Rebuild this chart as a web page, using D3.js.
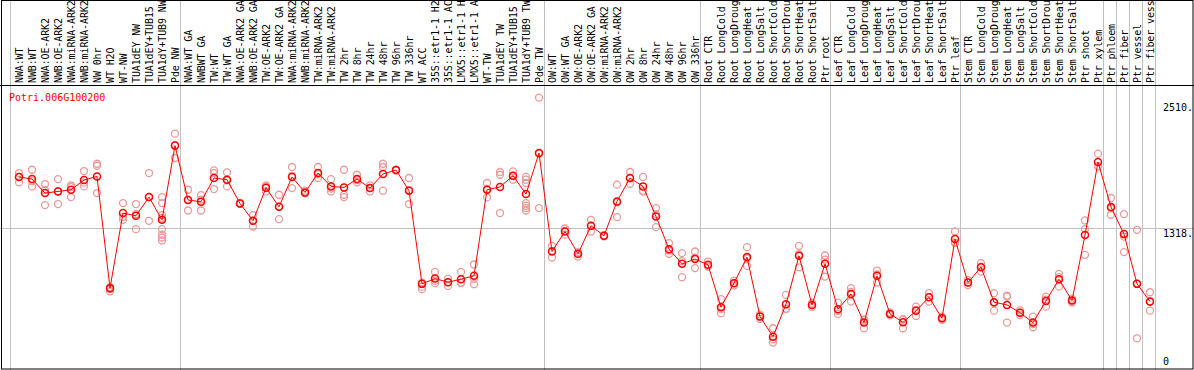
<!DOCTYPE html>
<html>
<head>
<meta charset="utf-8">
<script src="https://cdn.jsdelivr.net/npm/d3@7"></script>
<style>
  body { margin: 0; background: #fff; }
  svg text { font-family: "DejaVu Sans Mono", monospace; font-size: 10px; }
</style>
</head>
<body>
<div id="chart"></div>
<script>
var geneName = "Potri.006G100200";

// labels as far as they show in the header (the long ones are cut there)
var sampleLabels = [
  "NWA:WT", "NWB:WT", "NWA:OE-ARK2", "NWB:OE-ARK2", "NWA:miRNA-ARK2", "NWB:miRNA-ARK2",
  "NW 0hr", "WT H2O", "WT-NW", "TUA1dEY NW", "TUA1dEY+TUB15", "TUA1dY+TUB9 NW", "Pde NW",
  "NWA:WT GA", "NWBWT GA", "TW:WT", "TW:WT GA", "NWA:OE-ARK2 GA", "NWB:OE-ARK2 GA",
  "TW:OE-ARK2", "TW:OE-ARK2 GA", "NWA:miRNA-ARK2", "NWB:miRNA-ARK2", "TW:miRNA-ARK2",
  "TW:miRNA-ARK2", "TW 2hr", "TW 8hr", "TW 24hr", "TW 48hr", "TW 96hr", "TW 336hr", "WT ACC",
  "35S::etr1-1 H2", "35S::etr1-1 AC", "LMX5::etr1-1 H", "LMX5::etr1-1 A", "WT-TW",
  "TUA1dEY TW", "TUA1dEY+TUB15", "TUA1dY+TUB9 TW", "Pde TW",
  "OW:WT", "OW:WT GA", "OW:OE-ARK2", "OW:OE-ARK2 GA", "OW:miRNA-ARK2", "OW:miRNA-ARK2",
  "OW 2hr", "OW 8hr", "OW 24hr", "OW 48hr", "OW 96hr", "OW 336hr",
  "Root CTR", "Root LongCold", "Root LongDroug", "Root LongHeat", "Root LongSalt",
  "Root ShortCold", "Root ShortDrou", "Root ShortHeat", "Root ShortSalt", "Ptr root",
  "Leaf CTR", "Leaf LongCold", "Leaf LongDroug", "Leaf LongHeat", "Leaf LongSalt",
  "Leaf ShortCold", "Leaf ShortDrou", "Leaf ShortHeat", "Leaf ShortSalt", "Ptr leaf",
  "Stem CTR", "Stem LongCold", "Stem LongDroug", "Stem LongHeat", "Stem LongSalt",
  "Stem ShortCold", "Stem ShortDrou", "Stem ShortHeat", "Stem ShortSalt", "Ptr shoot",
  "Ptr xylem", "Ptr phloem", "Ptr fiber", "Ptr vessel", "Ptr fiber vess"
];

var meanValues = [
  1800, 1780, 1648, 1663, 1679, 1771, 1805, 749, 1459, 1433, 1610, 1395, 2096,
  1582, 1566, 1790, 1774, 1550, 1386, 1698, 1518, 1800,
  1654, 1837, 1711, 1701, 1780, 1695, 1828, 1865, 1670,
  790, 840, 806, 834, 866,
  1679, 1705, 1812, 1638, 2026,
  1096, 1285, 1074, 1339, 1244, 1569, 1790, 1711, 1427, 1118, 979, 1024,
  970, 570, 797, 1043, 481, 291, 598, 1055, 591, 979,
  551, 695, 424, 866, 506, 427, 535, 664, 465, 1213,
  802, 948, 617, 591, 518, 424, 629, 834, 632, 1251, 1941, 1516, 1260, 790, 623
];

var replicateValues = [
  [1837, 1800, 1749], [1868, 1760, 1711], [1733, 1677, 1534], [1780, 1665, 1544],
  [1720, 1705, 1610], [1856, 1746, 1711], [1925, 1906, 1648], [760, 740, 720],
  [1553, 1421, 1395], [1544, 1450, 1307], [1837, 1610, 1386],
  [1610, 1553, 1440, 1414, 1307, 1254, 1228, 1200], [2209, 2100, 1979],
  [1679, 1585, 1483], [1629, 1586, 1483], [1862, 1837, 1686], [1843, 1768, 1711],
  [1556, 1550, 1545], [1440, 1386, 1332], [1720, 1711, 1663], [1632, 1520, 1402],
  [1894, 1811, 1695], [1670, 1648, 1645], [1894, 1827, 1790], [1780, 1690, 1663],
  [1868, 1632, 1610], [1821, 1770, 1749], [1720, 1695, 1663], [1925, 1894, 1670],
  [1870, 1865, 1860], [1790, 1676, 1544], [802, 764, 740], [903, 820, 797],
  [840, 806, 771], [903, 802, 797], [973, 838, 787], [1743, 1687, 1607],
  [1847, 1821, 1459], [1853, 1809, 1774], [1800, 1774, 1743, 1553, 1528, 1506, 1483],
  [2550, 2020, 1506],
  [1149, 1100, 1039], [1313, 1290, 1255], [1090, 1074, 1048], [1395, 1337, 1285],
  [1250, 1244, 1238], [1727, 1560, 1421], [1847, 1787, 1736], [1800, 1670, 1663],
  [1506, 1449, 1326], [1175, 1105, 1074], [1080, 1004, 853], [1096, 1037, 939],
  [1001, 955, 954], [645, 552, 513], [820, 797, 775], [1137, 1032, 960], [500, 481, 460],
  [371, 267, 235], [686, 557, 551], [1149, 1070, 946], [610, 591, 572], [1058, 1020, 859],
  [613, 534, 506], [749, 713, 623], [452, 449, 371], [916, 880, 802], [520, 506, 492],
  [456, 454, 371], [575, 543, 487], [702, 667, 623], [480, 465, 450], [1285, 1180, 1175],
  [825, 802, 779], [986, 952, 906], [702, 612, 537], [679, 670, 424], [540, 518, 496],
  [481, 411, 380], [670, 642, 575], [885, 853, 764], [650, 632, 614], [1389, 1307, 1064],
  [2020, 1903, 1900], [1601, 1504, 1443], [1449, 1237, 1090], [1301, 793, 276], [711, 621, 537]
];

// index of the last sample in each block, a grey rule is drawn after it
var groupEnds = [12, 40, 52, 62, 72, 83, 84, 85, 86, 87];

var yTicks = [0, 1318, 2510];

var width = 1194, height = 370;
var plotTop = 85, plotBottom = 369;

var svg = d3.select("#chart").append("svg")
  .attr("width", width)
  .attr("height", height);

// one column every 13px, first sample at x=19
var xScale = d3.scalePoint()
  .domain(d3.range(sampleLabels.length))
  .range([19, 19 + 13 * (sampleLabels.length - 1)]);

var yScale = d3.scaleLinear()
  .domain([0, 2510])
  .range([367.5, 101.8]);

// grey rules
svg.append("line")
  .attr("x1", 10.5).attr("x2", 10.5)
  .attr("y1", 0).attr("y2", height)
  .style("stroke", "#c0c0c0");

svg.selectAll(".sep")
  .data(groupEnds)
  .enter().append("line")
  .attr("class", "sep")
  .attr("x1", d => Math.round(xScale(d)) + 5.5)
  .attr("x2", d => Math.round(xScale(d)) + 5.5)
  .attr("y1", 0).attr("y2", height)
  .style("stroke", "#c0c0c0");

svg.append("line")
  .attr("x1", 0).attr("x2", width)
  .attr("y1", Math.round(yScale(1318)) + 0.5)
  .attr("y2", Math.round(yScale(1318)) + 0.5)
  .style("stroke", "#c0c0c0");

// black frame and header rule
svg.append("rect")
  .attr("x", 1.5).attr("y", 0.5)
  .attr("width", width - 2.5).attr("height", plotBottom - 0.5)
  .style("fill", "none")
  .style("stroke", "#000");

svg.append("line")
  .attr("x1", 0).attr("x2", width)
  .attr("y1", plotTop + 0.5).attr("y2", plotTop + 0.5)
  .style("stroke", "#000");

// sample labels, rotated
svg.selectAll(".label")
  .data(sampleLabels)
  .enter().append("text")
  .attr("class", "label")
  .attr("transform", (d, i) => "translate(" + (xScale(i) + 4) + "," + (plotTop - 2) + ") rotate(-90)")
  .style("letter-spacing", "-0.12px")
  .style("fill", "#000")
  .text(d => d);

// right hand value labels
svg.selectAll(".ytick")
  .data(yTicks)
  .enter().append("text")
  .attr("class", "ytick")
  .attr("x", 1163)
  .attr("y", d => d == 0 ? 365 : yScale(d) + 9)
  .style("fill", "#000")
  .text(d => d == 0 ? "0" : d + ".");

// replicates
var reps = [];
replicateValues.forEach((vals, i) => {
  vals.forEach(v => reps.push({ i: i, v: v }));
});

svg.selectAll(".rep")
  .data(reps)
  .enter().append("circle")
  .attr("class", "rep")
  .attr("cx", d => xScale(d.i))
  .attr("cy", d => yScale(d.v))
  .attr("r", 3.5)
  .style("fill", "none")
  .style("stroke", "#eb9a9a")
  .style("stroke-width", 1.3);

// mean line
var line = d3.line()
  .x((d, i) => xScale(i))
  .y(d => yScale(d));

svg.append("path")
  .datum(meanValues)
  .attr("d", line)
  .style("fill", "none")
  .style("stroke", "#ff0000")
  .style("stroke-width", 1);

svg.selectAll(".mean")
  .data(meanValues)
  .enter().append("circle")
  .attr("class", "mean")
  .attr("cx", (d, i) => xScale(i))
  .attr("cy", d => yScale(d))
  .attr("r", 3.5)
  .style("fill", "none")
  .style("stroke", "#ff0000")
  .style("stroke-width", 1.5);

svg.append("text")
  .attr("x", 9)
  .attr("y", 101)
  .style("fill", "#ff0000")
  .text(geneName);
</script>
</body>
</html>
